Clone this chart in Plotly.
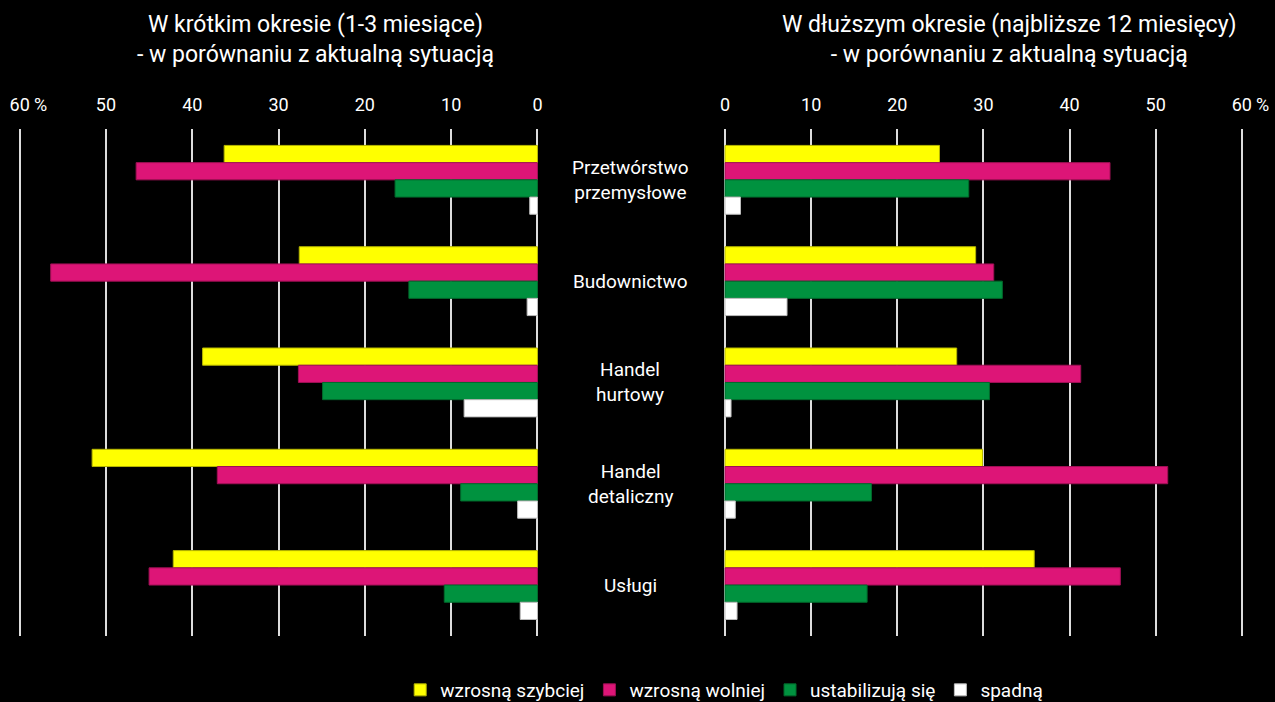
import plotly.graph_objects as go

categories = ["Przetwórstwo<br>przemysłowe", "Budownictwo", "Handel<br>hurtowy", "Handel<br>detaliczny", "Usługi"]
series_names = ["wzrosną szybciej", "wzrosną wolniej", "ustabilizują się", "spadną"]
colors = ["#FFFF00", "#DD1577", "#00923F", "#FFFFFF"]
line_colors = ["#B5B500", "#A01055", "#006A2C", "#BBBBBB"]

short_term = [
    [36.3, 27.6, 38.8, 51.6, 42.2],
    [46.5, 56.4, 27.7, 37.1, 45.0],
    [16.5, 14.9, 24.9, 8.9, 10.8],
    [0.9, 1.2, 8.5, 2.3, 2.0],
]
long_term = [
    [24.9, 29.1, 26.9, 29.9, 35.9],
    [44.7, 31.2, 41.3, 51.4, 45.9],
    [28.3, 32.2, 30.7, 17.0, 16.5],
    [1.8, 7.2, 0.7, 1.2, 1.4],
]
tick_vals = [0, 10, 20, 30, 40, 50, 60]
tick_text = ["0", "10", "20", "30", "40", "50", "60"]
unit_label = "%"

title_left = "W krótkim okresie (1-3 miesiące)<br>- w porównaniu z aktualną sytuacją"
title_right = "W dłuższym okresie (najbliższe 12 miesięcy)<br>- w porównaniu z aktualną sytuacją"

FONT = "Roboto, Liberation Sans Narrow, DejaVu Sans Condensed, sans-serif"
W, H = 1275, 702

fig = go.Figure()
for i, name in enumerate(series_names):
    fig.add_trace(go.Bar(
        y=categories, x=short_term[i], orientation="h", name=name,
        marker=dict(color=colors[i], line=dict(color=line_colors[i], width=1)),
        xaxis="x", yaxis="y", legendgroup=name, showlegend=True))
for i, name in enumerate(series_names):
    fig.add_trace(go.Bar(
        y=categories, x=long_term[i], orientation="h", name=name,
        marker=dict(color=colors[i], line=dict(color=line_colors[i], width=1)),
        xaxis="x2", yaxis="y2", legendgroup=name, showlegend=False))

y_dom = [1 - 635.7 / H, 1 - 129.2 / H]
axis_common = dict(
    side="top", tickvals=tick_vals, ticktext=tick_text, automargin=False,
    showgrid=True, gridcolor="#DDDDDD", gridwidth=2, zeroline=False,
    showline=False, ticks="outside", ticklen=10, tickcolor="black",
    tickfont=dict(color="white", size=18, family=FONT), fixedrange=True,
)
fig.update_layout(
    width=W, height=H,
    paper_bgcolor="black", plot_bgcolor="black",
    margin=dict(l=0, r=0, t=0, b=0, autoexpand=False),
    barmode="group", bargap=0.32, bargroupgap=0,
    font=dict(family=FONT, color="white"),
    xaxis=dict(domain=[15.3 / W, 541.8 / W], range=[60.5, -0.5], anchor="y", **axis_common),
    xaxis2=dict(domain=[720.7 / W, 1246.1 / W], range=[-0.5, 60.5], anchor="y2", **axis_common),
    yaxis=dict(domain=y_dom, autorange="reversed", showticklabels=False, showgrid=False,
               zeroline=False, anchor="x", fixedrange=True, automargin=False),
    yaxis2=dict(domain=y_dom, autorange="reversed", showticklabels=False, showgrid=False,
                zeroline=False, anchor="x2", matches="y", fixedrange=True, automargin=False),
    legend=dict(orientation="h", x=0.568, xanchor="center", y=-0.01, yanchor="bottom",
                font=dict(color="white", size=19, family=FONT), bgcolor="rgba(0,0,0,0)",
                itemwidth=30, tracegroupgap=0),
    showlegend=True,
)

for cat in categories:
    fig.add_annotation(x=630 / W, xref="paper", xanchor="center", y=cat, yref="y", text=cat,
                       showarrow=False, font=dict(color="white", size=19, family=FONT), align="center")

# "%" units next to the 60 ticks
for xr in ["x", "x2"]:
    fig.add_annotation(x=60, xref=xr, y=1 - 104 / H, yref="paper", text=unit_label, xshift=12,
                       xanchor="left", yanchor="middle", showarrow=False,
                       font=dict(color="white", size=18, family=FONT))

fig.add_annotation(x=315 / W, xref="paper", xanchor="center", y=1 - 39 / H, yref="paper",
                   yanchor="middle", text=title_left, showarrow=False,
                   font=dict(color="white", size=23, family=FONT), align="center")
fig.add_annotation(x=1009 / W, xref="paper", xanchor="center", y=1 - 39 / H, yref="paper",
                   yanchor="middle", text=title_right, showarrow=False,
                   font=dict(color="white", size=23, family=FONT), align="center")

fig.write_html("out.html", config={"displayModeBar": False},
               post_script="document.body.style.margin='0';document.body.style.background='black';")
